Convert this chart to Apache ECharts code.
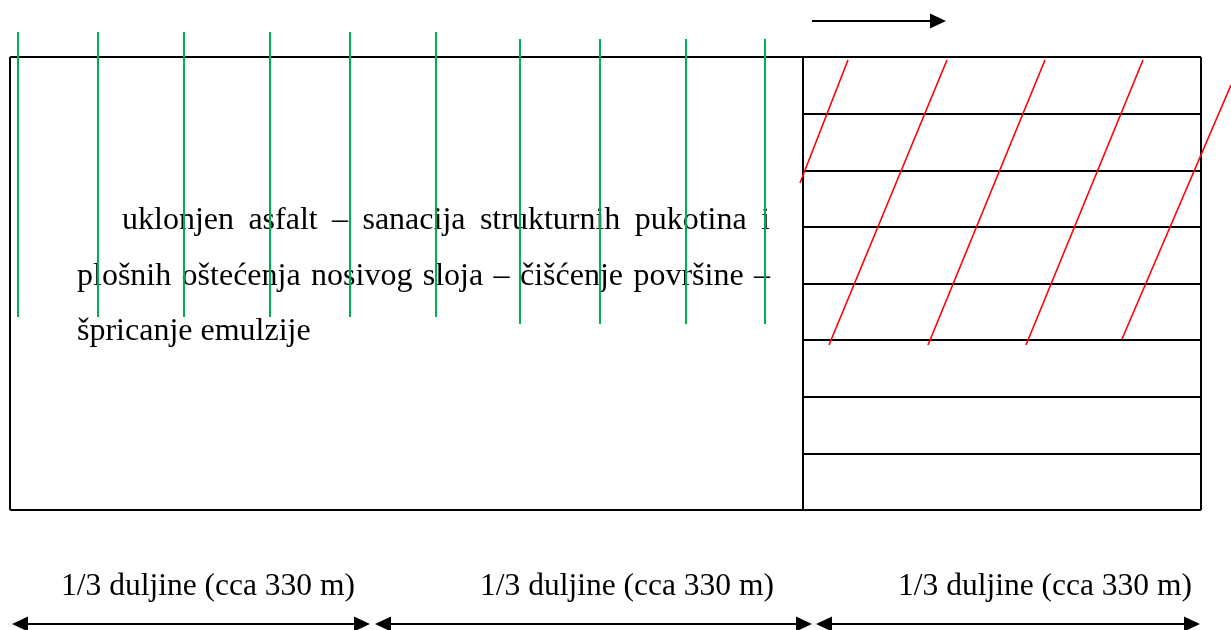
<!DOCTYPE html>
<html><head><meta charset="utf-8">
<script src="https://cdn.jsdelivr.net/npm/echarts@6/dist/echarts.min.js"></script>
<style>html,body{margin:0;padding:0;background:#fff}#c{width:1231px;height:630px}</style>
</head><body><div id="c"></div>
<script>
// ---- data (coordinates in a 1231 x 630 plane) ----
const frameX = [10, 803, 1201];            // outer left, divider, outer right
const frameY = [57, 510];                  // outer top, outer bottom
const rowLinesY = [114, 171, 227, 284, 340, 397, 454];
const greenX = [18, 98, 184, 270, 350, 436, 520, 600, 686, 765];
const greenTop = [32, 32, 32, 32, 32, 32, 39, 39, 39, 39];
const greenBottom = [317, 317, 317, 317, 317, 317, 324, 324, 324, 324];
const redLines = [
  [848, 60, 800, 183],
  [947, 60, 829, 345],
  [1045, 60, 928, 345],
  [1143, 60, 1026, 345],
  [1231, 85, 1122, 339]
];
const flowArrow = [812, 21, 946, 21];
const spanArrowStart = [12, 375, 816];
const spanArrowEnd = [370, 812, 1200];
const spanArrowY = 624;
const spanLabels = ['1/3 duljine (cca 330 m)', '1/3 duljine (cca 330 m)', '1/3 duljine (cca 330 m)'];
const spanLabelX = [208, 627, 1045];
const spanLabelBaseline = 595;
const noteLines = [
  'uklonjen asfalt – sanacija strukturnih pukotina i',
  'plošnih oštećenja nosivog sloja – čišćenje površine –',
  'špricanje emulzije'
];
const noteStart = [122, 77, 77];
const noteEnd = [770, 770, null];          // null = not justified
const noteBaseline = [229, 285, 340];

// ---- layout/style ----
const FONT_NOTE = 32, FONT_SPAN = 31.5;
const FAMILY = '"Liberation Serif", "Times New Roman", serif';
const DESCENT = 0.25;                       // bottom-of-box to baseline, in em
const ctx = document.createElement('canvas').getContext('2d');
function measure(t, size){ ctx.font = size + 'px ' + FAMILY; return ctx.measureText(t).width; }

// justified word placement
const noteWords = [], noteWordPos = [];
noteLines.forEach(function(line, i){
  const words = line.split(' ');
  const widths = words.map(function(w){ return measure(w, FONT_NOTE); });
  let gap = measure(' ', FONT_NOTE);
  if (noteEnd[i] != null && words.length > 1) {
    const sum = widths.reduce(function(a,b){return a+b;}, 0);
    gap = (noteEnd[i] - noteStart[i] - sum) / (words.length - 1);
  }
  let x = noteStart[i];
  words.forEach(function(w, k){
    noteWords.push(w);
    noteWordPos.push([x, noteBaseline[i]]);
    x += widths[k] + gap;
  });
});

const frameSegs = [
  [frameX[0], frameY[0], frameX[2], frameY[0]],
  [frameX[0], frameY[1], frameX[2], frameY[1]],
  [frameX[0], frameY[0], frameX[0], frameY[1]],
  [frameX[2], frameY[0], frameX[2], frameY[1]],
  [frameX[1], frameY[0], frameX[1], frameY[1]]
].concat(rowLinesY.map(function(y){ return [frameX[1], y, frameX[2], y]; }));
const greenSegs = greenX.map(function(x, i){ return [x, greenTop[i], x, greenBottom[i]]; });
const arrowData = [flowArrow.concat([0])].concat(
  spanArrowStart.map(function(s, i){ return [s, spanArrowY, spanArrowEnd[i], spanArrowY, 1]; }));

function segItem(color, width){
  return function(params, api){
    const p1 = api.coord([api.value(0), api.value(1)]);
    const p2 = api.coord([api.value(2), api.value(3)]);
    return {type:'line', shape:{x1:p1[0], y1:p1[1], x2:p2[0], y2:p2[1]},
      style:{stroke:color, lineWidth:width}};
  };
}
const HL = 16, HW = 7.5;
function arrowItem(params, api){
  const p1 = api.coord([api.value(0), api.value(1)]);
  const p2 = api.coord([api.value(2), api.value(3)]);
  const both = api.value(4) === 1;
  const y = p1[1];
  const children = [];
  const lx1 = both ? p1[0] + HL - 2 : p1[0];
  children.push({type:'line', shape:{x1:lx1, y1:y, x2:p2[0] - HL + 2, y2:y}, style:{stroke:'#000', lineWidth:2}});
  children.push({type:'polygon', shape:{points:[[p2[0], y], [p2[0]-HL, y-HW], [p2[0]-HL, y+HW]]}, style:{fill:'#000'}});
  if (both) children.push({type:'polygon', shape:{points:[[p1[0], y], [p1[0]+HL, y-HW], [p1[0]+HL, y+HW]]}, style:{fill:'#000'}});
  return {type:'group', children: children};
}
function textItem(texts, size, align){
  return function(params, api){
    const p = api.coord([api.value(0), api.value(1)]);
    return {type:'text', x:p[0], y:p[1] + size * DESCENT, style:{text: texts[params.dataIndex], fill:'#000',
      font: size + 'px ' + FAMILY, align: align, verticalAlign:'bottom', lineHeight: size}};
  };
}

const chart = echarts.init(document.getElementById('c'), null, {renderer:'canvas'});
chart.setOption({
  animation:false,
  backgroundColor:'#fff',
  grid:{left:0, right:0, top:0, bottom:0},
  xAxis:{type:'value', min:0, max:1231, show:false},
  yAxis:{type:'value', min:0, max:630, inverse:true, show:false},
  series:[
    {type:'custom', z:1, data: noteWordPos, encode:{x:0, y:1}, renderItem: textItem(noteWords, FONT_NOTE, 'left')},
    {type:'custom', z:1, data: spanLabelX.map(function(x){ return [x, spanLabelBaseline]; }), encode:{x:0, y:1},
      renderItem: textItem(spanLabels, FONT_SPAN, 'center')},
    {type:'custom', z:2, data: frameSegs, encode:{x:[0,2], y:[1,3]}, renderItem: segItem('#000', 2)},
    {type:'custom', z:3, data: greenSegs, encode:{x:[0,2], y:[1,3]}, renderItem: segItem('#00B050', 2)},
    {type:'custom', z:3, data: redLines, encode:{x:[0,2], y:[1,3]}, renderItem: segItem('#FF0000', 1.6)},
    {type:'custom', z:2, data: arrowData, encode:{x:[0,2], y:[1,3]}, renderItem: arrowItem}
  ]
});
</script></body></html>
